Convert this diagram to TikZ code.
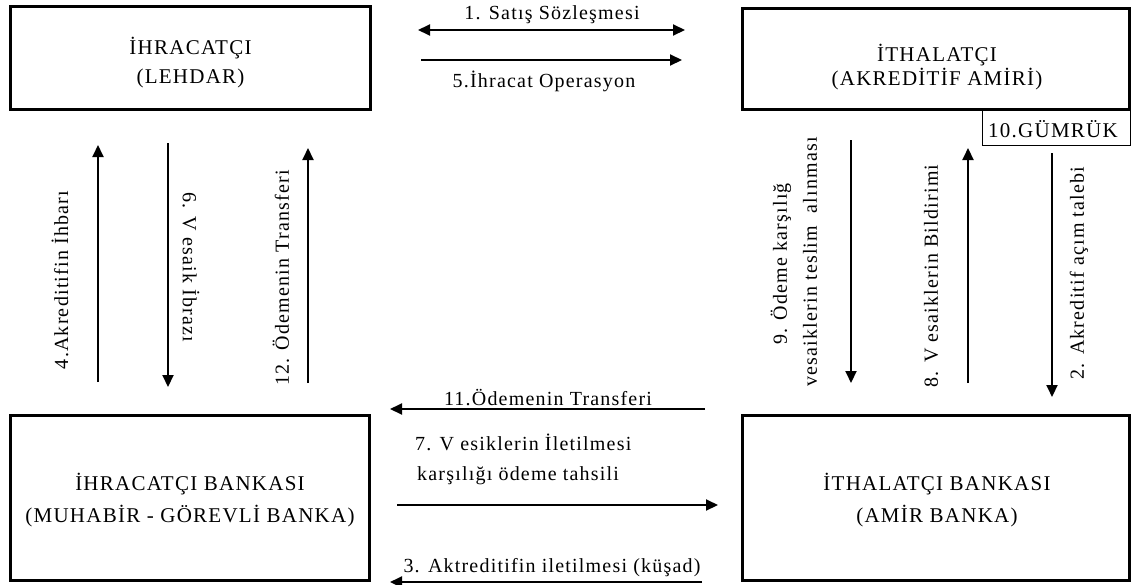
\documentclass[tikz,border=0pt]{standalone}
\usepackage{fontspec}
\setmainfont{Liberation Serif}
\newfontfamily\trackedserif[LetterSpace=6]{Liberation Serif}
\usetikzlibrary{arrows.meta}
\begin{document}
\begin{tikzpicture}[x=1pt,y=-1pt,
  partybox/.style={draw, line width=3pt, inner sep=0pt, outer sep=0pt},
  smallbox/.style={draw, line width=1pt, inner sep=0pt, outer sep=0pt},
  boxline/.style={anchor=base, inner sep=0pt, font=\trackedserif\fontsize{21}{25}\selectfont},
  flowlabel/.style={inner sep=0pt, font=\trackedserif\fontsize{20}{24}\selectfont},
  flow/.style={line width=2pt, -{Triangle[length=12pt,width=11pt]}},
  twoway/.style={line width=2pt, {Triangle[length=12pt,width=11pt]}-{Triangle[length=12pt,width=11pt]}},
]
\useasboundingbox (0,0) rectangle (1131,584);
\fill[white] (0,0) rectangle (1131,584);

% customs box under the importer
\node[smallbox, minimum width=148pt, minimum height=35pt] (gumruk) at (1056,127.5) {};
\node[boxline] (gumruk-t) at (1053,137) {10.GÜMRÜK};

% the four parties
\node[partybox, minimum width=360pt, minimum height=103pt] (exp) at (190,58) {};
\node[partybox, minimum width=387.5pt, minimum height=101pt] (imp) at (935.75,59) {};
\node[partybox, minimum width=359.5pt, minimum height=165pt] (expbank) at (189.75,497.5) {};
\node[partybox, minimum width=387.5pt, minimum height=165pt] (impbank) at (935.75,497.5) {};

\node[boxline] (exp-1) at (190.5,54) {İHRACATÇI};
\node[boxline] (exp-2) at (190.5,83) {(LEHDAR)};
\node[boxline] (imp-1) at (937,61.5) {İTHALATÇI};
\node[boxline] (imp-2) at (937,85) {(AKREDİTİF AMİRİ)};
\node[boxline] (expbank-1) at (190,490) {İHRACATÇI BANKASI};
\node[boxline] (expbank-2) at (190,522) {(MUHABİR - GÖREVLİ BANKA)};
\node[boxline] (impbank-1) at (937,490) {İTHALATÇI BANKASI};
\node[boxline] (impbank-2) at (937,522) {(AMİR BANKA)};

% arrow end points
\coordinate (s1a) at (418,30);  \coordinate (s1b) at (685,30);
\coordinate (s5a) at (421,60);  \coordinate (s5b) at (682,60);
\coordinate (s4a) at (98,382);  \coordinate (s4b) at (98,145);
\coordinate (s6a) at (168,143); \coordinate (s6b) at (168,387);
\coordinate (s12a) at (308,383); \coordinate (s12b) at (308,148);
\coordinate (s9a) at (851,140); \coordinate (s9b) at (851,383);
\coordinate (s8a) at (968,383); \coordinate (s8b) at (968,148);
\coordinate (s2a) at (1052,153); \coordinate (s2b) at (1052,397);
\coordinate (s11a) at (705,409); \coordinate (s11b) at (390,409);
\coordinate (s7a) at (397,505); \coordinate (s7b) at (718,505);
\coordinate (s3a) at (702,582); \coordinate (s3b) at (390,582);

\draw[twoway] (s1a) -- (s1b);
\draw[flow] (s5a) -- (s5b);
\draw[flow] (s4a) -- (s4b);
\draw[flow] (s6a) -- (s6b);
\draw[flow] (s12a) -- (s12b);
\draw[flow] (s9a) -- (s9b);
\draw[flow] (s8a) -- (s8b);
\draw[flow] (s2a) -- (s2b);
\draw[flow] (s11a) -- (s11b);
\draw[flow] (s7a) -- (s7b);
\draw[flow] (s3a) -- (s3b);

% step labels
\node[flowlabel, anchor=base] (l1) at (552,19) {1. Satış Sözleşmesi};
\node[flowlabel, anchor=base] (l5) at (544,87) {5.İhracat Operasyon};
\node[flowlabel, rotate=90] (l4) at (60,280) {4.Akreditifin İhbarı};
\node[flowlabel, rotate=-90] (l6) at (191,267) {6. V esaik İbrazı};
\node[flowlabel, rotate=90] (l12) at (281,278) {12. Ödemenin Transferi};
\node[flowlabel, rotate=90] (l9a) at (781,264) {9. Ödeme karşılığ};
\node[flowlabel, rotate=90] (l9b) at (810,262) {vesaiklerin teslim~ alınması};
\node[flowlabel, rotate=90] (l8) at (931,276) {8. V esaiklerin Bildirimi};
\node[flowlabel, rotate=90] (l2) at (1079,273) {2. Akreditif açım talebi};
\node[flowlabel, anchor=base] (l11) at (548,405) {11.Ödemenin Transferi};
\node[flowlabel, anchor=base west] (l7a) at (415,450) {7. V esiklerin İletilmesi};
\node[flowlabel, anchor=base west] (l7b) at (417,480) {karşılığı ödeme tahsili};
\node[flowlabel, anchor=base] (l3) at (552,572) {3. Aktreditifin iletilmesi (küşad)};
\end{tikzpicture}
\end{document}
